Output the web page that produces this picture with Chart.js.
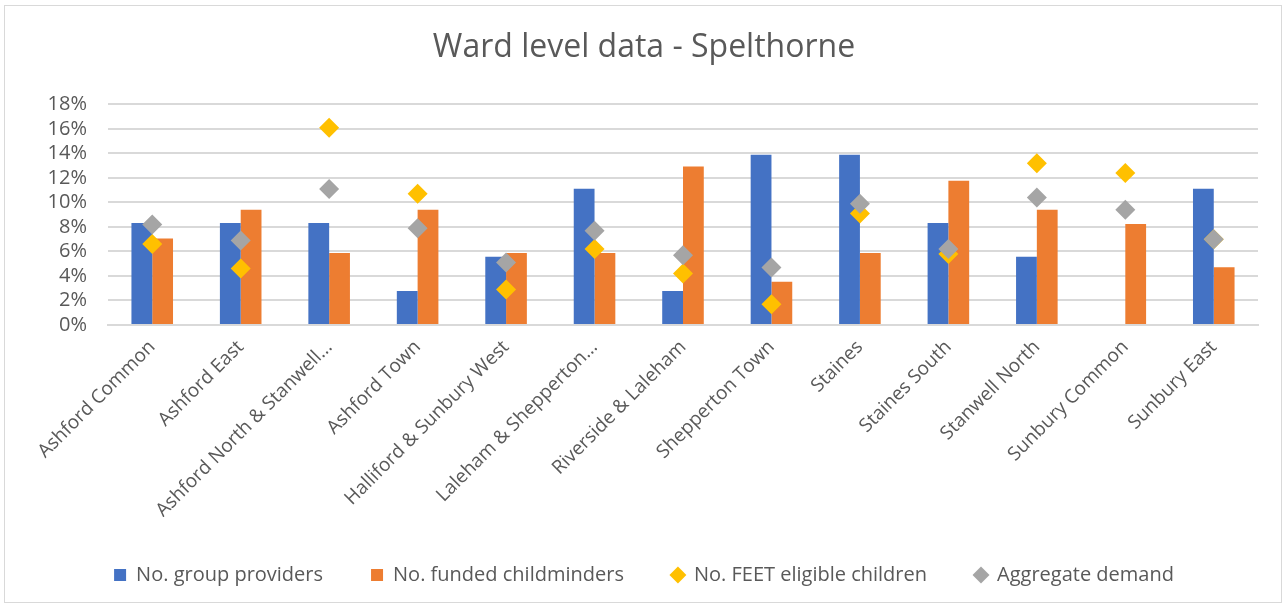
<!DOCTYPE html>
<html>
<head>
<meta charset="utf-8">
<script src="https://cdn.jsdelivr.net/npm/chart.js@4"></script>
<style>
  html, body { margin: 0; padding: 0; background: #fff; }
  #wrap { position: absolute; left: 0; top: 0; width: 1285px; height: 607px; }
</style>
</head>
<body>
<div id="wrap"><canvas id="wardChart"></canvas></div>
<script>
const wards = ['Ashford Common', 'Ashford East', 'Ashford North & Stanwell...', 'Ashford Town',
  'Halliford & Sunbury West', 'Laleham & Shepperton...', 'Riverside & Laleham', 'Shepperton Town',
  'Staines', 'Staines South', 'Stanwell North', 'Sunbury Common', 'Sunbury East'];

const groupProviders = [8.33, 8.33, 8.33, 2.78, 5.56, 11.11, 2.78, 13.89, 13.89, 8.33, 5.56, 0, 11.11];
const fundedChildminders = [7.06, 9.41, 5.88, 9.41, 5.88, 5.88, 12.94, 3.53, 5.88, 11.76, 9.41, 8.24, 4.71];
const feetEligible = [6.6, 4.6, 16.1, 10.7, 2.9, 6.2, 4.2, 1.7, 9.1, 5.8, 13.2, 12.4, 7.0];
const aggregateDemand = [8.2, 6.9, 11.1, 7.9, 5.1, 7.7, 5.7, 4.7, 9.9, 6.2, 10.4, 9.4, 7.0];

const yTicks = [0, 2, 4, 6, 8, 10, 12, 14, 16, 18];

Chart.defaults.font.family = '"Open Sans", "Liberation Sans", sans-serif';
Chart.defaults.color = '#595959';

// thin grey frame round the whole chart, like the Excel chart border
const frame = {
  id: 'frame',
  beforeDraw(chart) {
    const ctx = chart.ctx;
    ctx.save();
    ctx.fillStyle = '#fff';
    ctx.fillRect(0, 0, chart.width, chart.height);
    ctx.strokeStyle = '#d9d9d9';
    ctx.lineWidth = 1;
    ctx.strokeRect(4.5, 5.5, 1277, 597);
    ctx.restore();
  }
};

new Chart(document.getElementById('wardChart'), {
  type: 'bar',
  data: {
    labels: wards,
    datasets: [
      {
        label: 'No. group providers',
        data: groupProviders,
        backgroundColor: '#4472c4',
        pointStyle: 'rect',
        order: 3
      },
      {
        label: 'No. funded childminders',
        data: fundedChildminders,
        backgroundColor: '#ed7d31',
        pointStyle: 'rect',
        order: 4
      },
      {
        type: 'line',
        label: 'No. FEET eligible children',
        data: feetEligible,
        showLine: false,
        pointStyle: 'rectRot',
        pointRadius: 10,
        pointHoverRadius: 10,
        backgroundColor: '#ffc000',
        borderColor: '#ffc000',
        borderWidth: 0,
        order: 2
      },
      {
        type: 'line',
        label: 'Aggregate demand',
        data: aggregateDemand,
        showLine: false,
        pointStyle: 'rectRot',
        pointRadius: 10,
        pointHoverRadius: 10,
        backgroundColor: '#a5a5a5',
        borderColor: '#a5a5a5',
        borderWidth: 0,
        order: 1
      }
    ]
  },
  options: {
    responsive: true,
    maintainAspectRatio: false,
    animation: false,
    layout: { padding: { left: 30, right: 27, top: 0, bottom: 12 } },
    datasets: {
      bar: { categoryPercentage: 0.47, barPercentage: 1 }
    },
    plugins: {
      title: {
        display: true,
        text: 'Ward level data - Spelthorne',
        color: '#595959',
        font: { size: 32, weight: 'normal' },
        padding: { top: 29, bottom: 37 }
      },
      legend: {
        position: 'bottom',
        labels: {
          usePointStyle: true,
          boxWidth: 12,
          boxHeight: 12,
          padding: 48,
          font: { size: 20 },
          color: '#595959',
          sort: (a, b) => a.datasetIndex - b.datasetIndex
        }
      },
      tooltip: { enabled: false }
    },
    scales: {
      x: {
        afterFit: axis => { axis.height = 192; },
        grid: { display: false },
        border: { color: '#d9d9d9', width: 2 },
        ticks: {
          minRotation: 45,
          maxRotation: 45,
          autoSkip: false,
          font: { size: 19 },
          color: '#595959'
        }
      },
      y: {
        min: 0,
        max: 18,
        afterBuildTicks: axis => { axis.ticks = yTicks.map(v => ({ value: v })); },
        afterFit: axis => { axis.width = 78; },
        grid: { color: '#d9d9d9', lineWidth: 2, drawTicks: false },
        border: { display: false },
        ticks: {
          autoSkip: false,
          padding: 21,
          font: { size: 20 },
          color: '#595959',
          callback: v => v + '%'
        }
      }
    }
  },
  plugins: [frame]
});
</script>
</body>
</html>
